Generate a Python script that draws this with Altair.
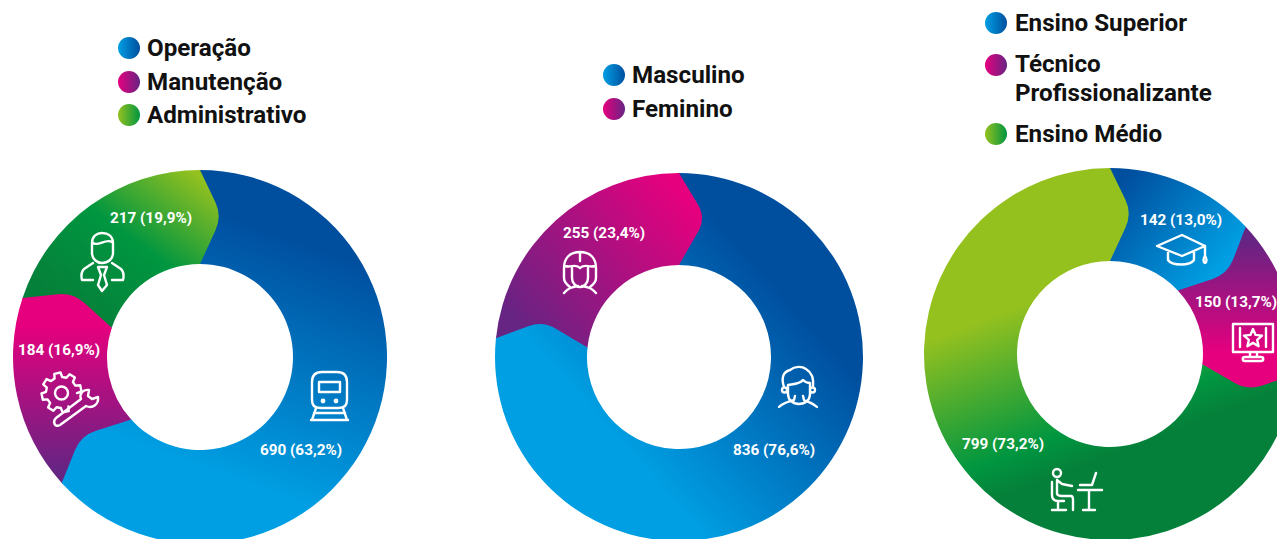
import math
import re
import altair as alt
import pandas as pd

# ---------- data ----------
donut1_values = [690, 184, 217]
donut1_labels = ["690 (63,2%)", "184 (16,9%)", "217 (19,9%)"]
donut2_values = [836, 255]
donut2_labels = ["836 (76,6%)", "255 (23,4%)"]
donut3_values = [142, 150, 799]
donut3_labels = ["142 (13,0%)", "150 (13,7%)", "799 (73,2%)"]

legend1 = ["Operação", "Manutenção", "Administrativo"]
legend2 = ["Masculino", "Feminino"]
legend3 = ["Ensino Superior", "Técnico", "Profissionalizante", "Ensino Médio"]

# ---------- style ----------
FONT = "Roboto"
OFF = 8  # page margin: positions below are given in picture pixels
LIGHT, DARK = "#009fe3", "#004f9f"
PINK, PURPLE = "#e6007e", "#662483"
YELLOW, GREEN, DGREEN = "#95c11f", "#009640", "#05803a"


def grad(x1, y1, x2, y2, *colors, offsets=None):
    n = len(colors) - 1
    offs = offsets or [i / n for i in range(n + 1)]
    return {
        "gradient": "linear", "x1": x1, "y1": y1, "x2": x2, "y2": y2,
        "stops": [{"offset": o, "color": c} for o, c in zip(offs, colors)],
    }


donuts = [
    dict(cx=200, cy=357, R=187, r=93, values=donut1_values, bulges=[22, 21, 22], fills=[
        grad(.72, .19, .52, .83, DARK, LIGHT),
        grad(.5, .15, .5, .93, PINK, PURPLE),
        grad(1.02, .05, .3, .9, YELLOW, GREEN, DGREEN),
    ]),
    dict(cx=679, cy=357, R=184, r=92, values=donut2_values, bulges=[22, 27], fills=[
        grad(.8, .35, .35, .75, DARK, LIGHT),
        grad(1, .1, .1, .85, PINK, PURPLE),
    ]),
    dict(cx=1110, cy=354, R=186, r=93, values=donut3_values, bulges=[22, 21, 22], fills=[
        grad(.1, .1, .9, .7, DARK, LIGHT),
        grad(.5, .1, .5, .85, PURPLE, PINK),
        grad(.204, .39, .41, .93, YELLOW, GREEN, DGREEN, DGREEN, offsets=[0, .63, .8, 1]),
    ]),
]

theta_scale = alt.Scale(domain=[0, 1], range=[0, 2 * math.pi])
blank = pd.DataFrame({"a": [0]})


def bbox(pts):
    xs = [p[0] for p in pts]
    ys = [p[1] for p in pts]
    return min(xs), min(ys), max(xs) - min(xs), max(ys) - min(ys)


def slice_bbox(d, s0, s1):
    pts = []
    for i in range(361):
        t = 2 * math.pi * (s0 + (s1 - s0) * i / 360)
        for rad in (d["R"], d["r"]):
            pts.append((rad * math.sin(t), -rad * math.cos(t)))
    return bbox(pts)


def tip_geometry(d, end_share, bulge):
    """rounded nose that each slice pushes into the next one (relative to donut centre)"""
    t = end_share * 2 * math.pi
    er = (math.sin(t), -math.cos(t))
    et = (math.cos(t), math.sin(t))
    mid = (d["R"] + d["r"]) / 2 + 1

    def p(u, v):
        return (u * er[0] + v * et[0], u * er[1] + v * et[1])

    f = .7
    O, I, C = p(d["R"], 0), p(d["r"], 0), p(mid, bulge)
    A = p(d["R"] + (mid - d["R"]) * f, bulge * f)
    B = p(d["r"] + (mid - d["r"]) * f, bulge * f)
    O2, I2 = p(d["R"], -1.5), p(d["r"], -1.5)
    curve = [
        ((1 - s) ** 2 * A[0] + 2 * s * (1 - s) * C[0] + s * s * B[0],
         (1 - s) ** 2 * A[1] + 2 * s * (1 - s) * C[1] + s * s * B[1])
        for s in [i / 20 for i in range(21)]
    ]
    cx, cy = d["cx"] - OFF, d["cy"] - OFF
    path = (f"M{cx + O2[0]:.2f} {cy + O2[1]:.2f}L{cx + O[0]:.2f} {cy + O[1]:.2f}L{cx + A[0]:.2f} {cy + A[1]:.2f}"
            f"Q{cx + C[0]:.2f} {cy + C[1]:.2f} {cx + B[0]:.2f} {cy + B[1]:.2f}"
            f"L{cx + I[0]:.2f} {cy + I[1]:.2f}L{cx + I2[0]:.2f} {cy + I2[1]:.2f}Z")
    return path, bbox([O2, O, A, B, I, I2] + curve)


def tip_gradient(g, sb, tb):
    """same colours as the slice's own gradient, re-expressed in the nose's box"""
    dx, dy = g["x2"] - g["x1"], g["y2"] - g["y1"]
    L = dx * dx + dy * dy
    a = tb[2] / sb[2] * dx / L
    b = tb[3] / sb[3] * dy / L
    c = ((tb[0] - sb[0]) / sb[2] - g["x1"]) * dx / L + ((tb[1] - sb[1]) / sb[3] - g["y1"]) * dy / L
    n = a * a + b * b
    return {"gradient": "linear", "x1": -c * a / n, "y1": -c * b / n,
            "x2": (1 - c) * a / n, "y2": (1 - c) * b / n, "stops": g["stops"]}


def shape_layer(path, **mark):
    """a path in chart pixels; size 4 makes Vega draw it at scale 1"""
    return alt.Chart(blank).mark_point(shape=path, size=4, opacity=1, **mark).encode(
        x=alt.value(0), y=alt.value(0))


arcs, tips = [], []
for d in donuts:
    total = sum(d["values"])
    start = 0
    for v, fill, bulge in zip(d["values"], d["fills"], d["bulges"]):
        end = start + v
        df = pd.DataFrame({"start": [start / total], "end": [end / total], "value": [v]})
        arcs.append(
            alt.Chart(df).mark_arc(radius=d["R"], radius2=d["r"], color=fill).encode(
                theta=alt.Theta("start:Q", scale=theta_scale),
                theta2="end:Q",
                x=alt.value(d["cx"] - OFF),
                y=alt.value(d["cy"] - OFF),
            )
        )
        path, tb = tip_geometry(d, end / total, bulge)
        sb = slice_bbox(d, start / total, end / total)
        tips.append(shape_layer(path, filled=True, color=tip_gradient(fill, sb, tb)))
        start = end


# ---------- text ----------
def text_layer(texts, xs, ys, size, color, align):
    df = pd.DataFrame({"t": texts, "x": [x - OFF for x in xs], "y": [y - OFF for y in ys]})
    return alt.Chart(df).mark_text(
        font=FONT, fontWeight="bold", fontSize=size, color=color, align=align, baseline="middle"
    ).encode(
        text="t:N",
        x=alt.X("x:Q", scale=None),
        y=alt.Y("y:Q", scale=None),
    )


value_texts = donut1_labels + donut2_labels + donut3_labels
value_x = [301, 59, 151, 774, 604, 1181, 1236, 1003]
value_y = [450, 350, 218, 450, 233, 220, 302, 444]
values_layer = text_layer(value_texts, value_x, value_y, 15.3, "#ffffff", "center")

legend_layer = text_layer(
    legend1 + legend2 + legend3,
    [147, 147, 147, 632, 632, 1015, 1015, 1015, 1015],
    [49, 83, 116, 76, 110, 24, 65, 94, 135],
    24.2, "#111111", "left",
)

dot_rows = [
    (129, 48, LIGHT, DARK), (129, 82, PINK, PURPLE), (129, 115, YELLOW, GREEN),
    (614, 75, LIGHT, DARK), (614, 109, PINK, PURPLE),
    (996, 23, LIGHT, DARK), (996, 65, PINK, PURPLE), (996, 134, YELLOW, GREEN),
]
dots = [
    alt.Chart(blank).mark_point(shape="circle", size=484, filled=True, opacity=1,
                                color=grad(0, .5, 1, .5, a, b)).encode(
        x=alt.value(x - OFF), y=alt.value(y - OFF))
    for x, y, a, b in dot_rows
]


# ---------- icons (picture pixels, shifted by the page margin) ----------
def mv(path):
    out = []
    for tok in re.findall(r"[A-Za-z]|-?\d+\.?\d*", path):
        out.append(tok if tok.isalpha() else f"{float(tok) - OFF:g}")
    return " ".join(out)


def circle(x, y, r):
    k = r * .55
    return (f"M{x - r} {y}C{x - r} {y - k} {x - k} {y - r} {x} {y - r}C{x + k} {y - r} {x + r} {y - k} {x + r} {y}"
            f"C{x + r} {y + k} {x + k} {y + r} {x} {y + r}C{x - k} {y + r} {x - r} {y + k} {x - r} {y}Z")


def gear(cx, cy, ro, ri, teeth, a0, a1):
    pts = []
    step = 360 / teeth
    a = a0
    while a < a1:
        for da, rad in ((-.32, ri), (-.2, ro), (.2, ro), (.32, ri)):
            ang = math.radians(a + da * step)
            pts.append((cx + rad * math.cos(ang), cy + rad * math.sin(ang)))
        a += step
    return "M" + "L".join(f"{x:.1f} {y:.1f}" for x, y in pts)


icon_train = (
    "M322 372L337 372C344 372 347 376 347 382L347 400C347 405 344 408 339 408L320 408C315 408 312 405 312 400L312 382C312 376 315 372 322 372Z"
    "M319 382L340 382L340 392L319 392Z"
    + circle(323, 401, 1.2) + circle(336, 401, 1.2) +
    "M316 408L312 420M343 408L347 420M314 413L345 413M311 420L348 420"
)
icon_person = (
    "M92 243C92 236 97 233 102 233C108 233 113 236 113 243L113 253C113 259 108 263 102 263C97 263 92 259 92 253Z"
    "M93 243C98 247 106 238 112 242"
    "M93 263L84 269C81 272 81 276 82 280L93 280M112 263L121 269C124 272 124 276 123 280L112 280"
    "M98 267L107 267L104 275L107 285L102 291L98 285L101 275Z"
)
icon_gear = (
    gear(61.5, 392.5, 20, 15.5, 8, 78, 375) + circle(61.5, 393, 6.5) +
    "M56 418L81 399C79 394 83 389 89 390L88 396L92 399L98 397C99 404 93 409 86 406L60 425C55 428 52 422 56 418Z"
)
icon_woman = (
    "M580 252C570 252 564 258 564 268L564 278C564 282 566 284 570 287"
    "M580 252C590 252 596 258 596 268L596 278C596 282 594 284 590 287"
    "M580 252L580 261"
    "M565 266C571 268 576 263 580 268C584 263 589 268 595 266"
    "M572 268L572 278C572 283 576 287 580 287C584 287 588 283 588 278L588 268"
    "M564 293C568 288 572 287 578 286M596 293C592 288 588 287 582 286"
)
icon_man = (
    "M788 385L788 394C788 400 793 404 799 404C805 404 810 400 810 394L810 383"
    "M788 385C794 384 800 384 803 380C805 382 807 383 810 383"
    "M784 387C781 378 783 372 790 370M790 370C795 366 802 366 806 369C811 372 814 378 813 387"
    + circle(784.5, 390, 2.5) + circle(812.5, 390, 2.5) +
    "M779 407C783 403 788 402 794 400L795 396M817 407C813 403 808 402 804 400L803 396"
)
icon_cap = (
    "M1182 235L1205 246L1182 256L1157 246Z"
    "M1168 252L1168 260C1172 266 1190 266 1194 260L1194 252"
    "M1205 246L1205 256C1203 258 1203 262 1205 263C1207 262 1207 258 1205 256"
)
star = []
for k in range(10):
    rad = 9.5 if k % 2 == 0 else 4.4
    ang = math.radians(-90 + 36 * k)
    star.append((1253 + rad * math.cos(ang), 338.5 + rad * math.sin(ang)))
icon_monitor = (
    "M1233 324L1273 324L1273 352L1233 352Z"
    "M1240 328L1240 347M1266 328L1266 347"
    "M" + "L".join(f"{x:.1f} {y:.1f}" for x, y in star) + "Z"
    "M1250 352L1250 357M1257 352L1257 357"
    "M1245 357L1261 357C1264 357 1264 361 1261 361L1245 361C1242 361 1242 357 1245 357Z"
)
icon_desk = (
    circle(1057, 473, 4) +
    "M1052 482L1052 495C1052 499 1054 501 1058 501L1064 501"
    "M1057 480L1062 484L1072 486M1057 480L1057 494C1058 496 1060 496 1062 496L1071 496C1073 496 1073 498 1073 500L1073 510"
    "M1058 501L1058 510M1052 510L1066 510"
    "M1078 490L1102 490M1089 490L1089 510M1083 510L1095 510"
    "M1080 485L1092 485L1096 473"
)
icons = [
    shape_layer(mv(p), filled=False, color="#ffffff", strokeWidth=2.4, strokeCap="round", strokeJoin="round")
    for p in (icon_train, icon_person, icon_gear, icon_woman, icon_man, icon_cap, icon_monitor, icon_desk)
]

chart = alt.layer(
    *arcs, *tips, values_layer, legend_layer, *dots, *icons
).properties(
    width=1269, height=531, padding=0,
    autosize=alt.AutoSizeParams(type="none"),
).configure_view(stroke=None)

chart.save("out.html", embed_options={"renderer": "svg", "actions": False})
